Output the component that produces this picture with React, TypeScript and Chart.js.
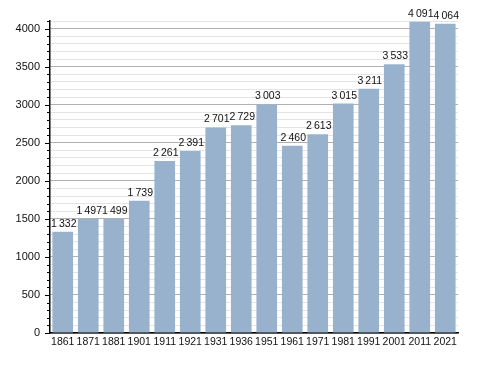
import React, { useEffect, useRef } from "react";
import { Chart, registerables } from "chart.js";

Chart.register(...registerables);

const years = ["1861","1871","1881","1901","1911","1921","1931","1936","1951","1961","1971","1981","1991","2001","2011","2021"];
const population = [1332,1497,1499,1739,2261,2391,2701,2729,3003,2460,2613,3015,3211,3533,4091,4064];
const yMin = 0;
const yMax = 4100;
const minorStep = 100;
const majorStep = 500;

const FONT = "'Liberation Sans', Arial, sans-serif";

function fmt(v: number): string {
  const s = String(v);
  return s.length > 3 ? s.slice(0, s.length - 3) + "\u2009" + s.slice(-3) : s;
}

const valueLabels = {
  id: "valueLabels",
  afterDatasetsDraw(chart: any) {
    const ctx = chart.ctx;
    const meta = chart.getDatasetMeta(0);
    ctx.save();
    ctx.font = `10.5px ${FONT}`;
    ctx.fillStyle = "#111";
    ctx.textAlign = "center";
    ctx.textBaseline = "alphabetic";
    meta.data.forEach((bar: any, i: number) => {
      ctx.fillText(fmt(population[i]), bar.x + 1, bar.y - 5);
    });
    ctx.restore();
  },
};

const yTickMarks = {
  id: "yTickMarks",
  afterDraw(chart: any) {
    const ctx = chart.ctx;
    const ys = chart.scales.y;
    const left = chart.chartArea.left;
    ctx.save();
    ctx.strokeStyle = "#000";
    ctx.lineWidth = 1;
    ys.ticks.forEach((t: any) => {
      const y = Math.round(ys.getPixelForValue(t.value)) + 0.5;
      const len = t.value % majorStep === 0 ? 5 : 3;
      ctx.beginPath();
      ctx.moveTo(left - len, y);
      ctx.lineTo(left, y);
      ctx.stroke();
    });
    ctx.restore();
  },
};

export default function App() {
  const ref = useRef<HTMLCanvasElement>(null);
  useEffect(() => {
    if (!ref.current) return;
    const chart = new Chart(ref.current, {
      type: "bar",
      data: {
        labels: years,
        datasets: [
          {
            data: population,
            backgroundColor: "#98b2cd",
            borderWidth: 0,
            barPercentage: 0.81,
            categoryPercentage: 1,
          },
        ],
      },
      options: {
        responsive: false,
        animation: false,
        layout: { padding: { top: 21, right: 30, left: 0, bottom: 0 } },
        plugins: { legend: { display: false }, tooltip: { enabled: false } },
        scales: {
          x: {
            offset: true,
            grid: { display: false, drawTicks: false },
            border: { color: "#000", width: 1.5 },
            ticks: { color: "#111", font: { family: FONT, size: 10.5 }, padding: 3, maxRotation: 0, autoSkip: false },
            afterFit: (s: any) => { s.height = 40; },
          },
          y: {
            min: yMin,
            max: yMax,
            grid: {
              drawTicks: false,
              color: (c: any) => (c.tick && c.tick.value % majorStep === 0 ? "#b0b0b0" : "#e4e4e4"),
              lineWidth: 1,
            },
            border: { color: "#000", width: 1.5 },
            ticks: {
              stepSize: minorStep,
              autoSkip: false,
              padding: 10,
              color: "#111",
              font: { family: FONT, size: 11 },
              callback: (v: any) => (Number(v) % majorStep === 0 ? String(v) : ""),
            },
            afterFit: (s: any) => { s.width = 50; },
          },
        },
      },
      plugins: [valueLabels, yTickMarks],
    });
    return () => chart.destroy();
  }, []);
  return (
    <div style={{ position: "fixed", left: 0, top: 0, width: 488, height: 373, background: "#fff" }}>
      <canvas ref={ref} width={488} height={373} style={{ display: "block" }} />
    </div>
  );
}
